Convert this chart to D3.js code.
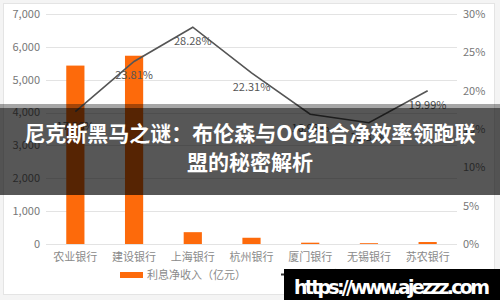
<!DOCTYPE html>
<html lang="zh">
<head>
  <meta charset="utf-8">
  <title>利息净收入与非利息收入占比</title>
  <style>
    body {
      margin:0;
      background-color:#f4f4f4;
      font-family:"Noto Sans CJK SC", "Noto Sans", sans-serif;
    }
    #chart {
      display:block;
    }
    .grid line {
      stroke:#e3e3e3;
      stroke-width:1;
    }
    .tick-label {
      font-size:11px;
      fill:#777;
    }
    .cat-label {
      font-size:11px;
      fill:#8a8a8a;
    }
    .value-label {
      font-size:11px;
      fill:#555;
    }
  </style>
</head>
<body>
  <div id="chart"></div>
  <script src="https://cdn.jsdelivr.net/npm/d3@7"></script>
  <script>
    var categories = ["农业银行","建设银行","上海银行","杭州银行","厦门银行","无锡银行","苏农银行"];
    var netInterest = [5430, 5730, 360, 190, 40, 25, 60];      // 利息净收入（亿元）
    var nonInterestShare = [17.26, 23.81, 28.28, 22.31, 16.93, 15.82, 19.99]; // %
    var leftTicks = [0, 1000, 2000, 3000, 4000, 5000, 6000, 7000];
    var rightTicks = [0, 5, 10, 15, 20, 25, 30];
    var legendNames = ["利息净收入（亿元）", "非利息收入占比"];
    var titleLines = ["尼克斯黑马之谜：布伦森与OG组合净效率领跑联", "盟的秘密解析"];
    var watermark = "https://www.ajezzz.com";

    var W = 500, H = 300;
    var orange = "#fd6a0b";

    var svg = d3.select("#chart").append("svg")
        .attr("width", W)
        .attr("height", H);

    // card
    svg.append("rect")
        .attr("x", 3.5).attr("y", 3.5)
        .attr("width", 491).attr("height", 291)
        .attr("fill", "#fff")
        .attr("stroke", "#e4e4e4");

    var x = d3.scaleBand().domain(categories).range([46, 457]);
    var yL = d3.scaleLinear().domain([0, 7000]).range([244, 14]);
    var yR = d3.scaleLinear().domain([0, 30]).range([244, 14]);

    // grid
    svg.append("g").attr("class", "grid")
      .selectAll("line").data(leftTicks).enter().append("line")
        .attr("x1", 46).attr("x2", 457)
        .attr("y1", function(d){ return Math.round(yL(d)) + 0.5; })
        .attr("y2", function(d){ return Math.round(yL(d)) + 0.5; });

    // left ticks
    svg.append("g").selectAll("text").data(leftTicks).enter().append("text")
        .attr("class", "tick-label")
        .attr("x", 40)
        .attr("y", function(d){ return yL(d); })
        .attr("dy", "0.35em")
        .attr("text-anchor", "end")
        .text(d3.format(","));

    // right ticks
    svg.append("g").selectAll("text").data(rightTicks).enter().append("text")
        .attr("class", "tick-label")
        .attr("x", 463)
        .attr("y", function(d){ return yR(d); })
        .attr("dy", "0.35em")
        .text(function(d){ return d + "%"; });

    // categories
    svg.append("g").selectAll("text").data(categories).enter().append("text")
        .attr("class", "cat-label")
        .attr("x", function(d){ return x(d) + x.bandwidth() / 2; })
        .attr("y", 261)
        .attr("text-anchor", "middle")
        .text(function(d){ return d; });

    // bars
    var bw = x.bandwidth() * 0.31;
    svg.append("g").selectAll("rect").data(netInterest).enter().append("rect")
        .attr("x", function(d, i){ return x(categories[i]) + (x.bandwidth() - bw) / 2; })
        .attr("y", function(d){ return yL(d); })
        .attr("width", bw)
        .attr("height", function(d){ return 244 - yL(d); })
        .attr("fill", orange);

    // line
    var line = d3.line()
        .x(function(d, i){ return x(categories[i]) + x.bandwidth() / 2; })
        .y(function(d){ return yR(d); });

    svg.append("path")
        .datum(nonInterestShare)
        .attr("d", line)
        .attr("fill", "none")
        .attr("stroke", "#555")
        .attr("stroke-width", 1.6);

    svg.append("g").selectAll("text").data(nonInterestShare).enter().append("text")
        .attr("class", "value-label")
        .attr("x", function(d, i){ return x(categories[i]) + x.bandwidth() / 2; })
        .attr("y", function(d){ return yR(d) + 18; })
        .attr("text-anchor", "middle")
        .text(function(d){ return d.toFixed(2) + "%"; });

    // legend
    var legend = svg.append("g");
    legend.append("rect")
        .attr("x", 120).attr("y", 272)
        .attr("width", 23).attr("height", 6)
        .attr("fill", orange);
    legend.append("text")
        .attr("class", "cat-label")
        .attr("x", 147).attr("y", 279)
        .text(legendNames[0]);
    legend.append("line")
        .attr("x1", 281).attr("x2", 304)
        .attr("y1", 274.5).attr("y2", 274.5)
        .attr("stroke", "#333")
        .attr("stroke-width", 2);
    legend.append("text")
        .attr("class", "cat-label")
        .attr("x", 308).attr("y", 279)
        .text(legendNames[1]);

    // title banner
    svg.append("rect")
        .attr("x", 0).attr("y", 104)
        .attr("width", W).attr("height", 4)
        .attr("fill", "rgba(0,0,0,0.35)");
    svg.append("rect")
        .attr("x", 0).attr("y", 108)
        .attr("width", W).attr("height", 87)
        .attr("fill", "rgba(0,0,0,0.66)");

    svg.append("g").selectAll("text").data(titleLines).enter().append("text")
        .attr("x", 250)
        .attr("y", function(d, i){ return 141 + i * 29; })
        .attr("text-anchor", "middle")
        .attr("fill", "#fff")
        .attr("font-size", "21px")
        .attr("font-weight", "bold")
        .text(function(d){ return d; });

    // watermark
    svg.append("rect")
        .attr("x", 284).attr("y", 269)
        .attr("width", 216).attr("height", 31)
        .attr("fill", "#000");
    svg.append("text")
        .attr("x", 294).attr("y", 294)
        .attr("fill", "#fff")
        .attr("font-family", "DejaVu Sans, sans-serif")
        .attr("font-weight", "bold")
        .attr("font-size", "19px")
        .attr("textLength", 196)
        .text(watermark);
  </script>
</body>
</html>
